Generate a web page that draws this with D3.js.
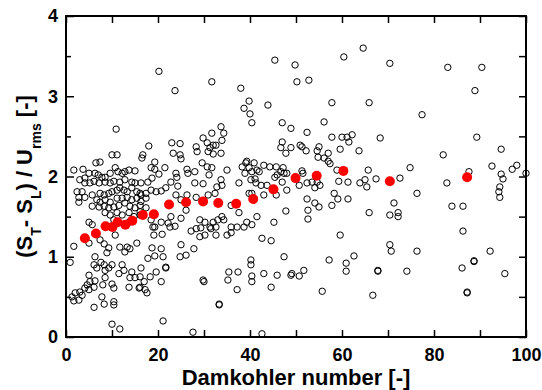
<!DOCTYPE html>
<html>
<head>
<meta charset="utf-8">
<script src="https://cdn.jsdelivr.net/npm/d3@7"></script>
<style>
body { margin: 0; background: #fff; }
svg text { font-family: "Liberation Sans", Arial, Helvetica, sans-serif; font-weight: bold; fill: #000; }
</style>
</head>
<body>
<svg width="542" height="390"></svg>
<script>
// tick values
var xTicks = [0, 10, 20, 30, 40, 50, 60, 70, 80, 90, 100];
var yTicks = [0, 1, 2, 3, 4];
var yMinor = [0.5, 1.5, 2.5, 3.5];
var yRight = [0, 0.5, 1, 1.5, 2, 2.5, 3, 3.5, 4];

// binned means (red)
var meanDa = [4.1, 6.5, 8.6, 10.1, 11.2, 12.9, 14.4, 16.7, 19.1, 22.4, 26.1, 29.8, 33.1, 37.0, 40.7, 45.1, 49.9, 54.5, 60.3, 70.4, 87.2];
var meanSpeed = [1.23, 1.29, 1.38, 1.37, 1.43, 1.40, 1.45, 1.52, 1.53, 1.65, 1.68, 1.69, 1.67, 1.66, 1.72, 1.84, 1.98, 2.01, 2.07, 1.94, 1.99];

// individual samples [Da, (St-Sl)/Urms]
var scatter = [
[20.2,3.31],[23.7,3.07],[10.9,2.59],[23.0,2.42],
[10.0,2.27],[11.1,2.27],[6.5,2.17],[7.4,2.18],[1.7,2.08],[3.7,2.09],[10.7,2.11],[13.7,2.08],[15.0,2.07],
[5.0,2.04],[6.3,2.04],[7.0,2.02],[7.8,1.99],[8.5,1.99],[9.6,2.04],[11.3,2.06],[12.2,2.04],[12.8,2.06],
[3.0,1.96],[4.1,1.98],[4.1,1.92],[5.2,1.92],[6.1,1.94],[7.2,1.92],[8.5,1.93],[9.6,1.92],[10.4,1.94],[11.7,1.93],[12.8,1.96],[14.3,1.93],[15.0,1.92],
[2.4,1.81],[3.5,1.81],[2.8,1.74],[2.8,1.68],[4.1,1.74],[5.7,1.77],[7.4,1.79],[8.3,1.77],[9.3,1.79],[10.0,1.81],[11.1,1.83],[11.7,1.86],[12.6,1.83],[13.3,1.81],[14.3,1.86],[15.4,1.81],[16.1,1.79],
[6.7,1.71],[7.4,1.68],[8.5,1.71],[9.6,1.68],[11.1,1.73],[12.2,1.73],[13.3,1.74],[14.3,1.71],[15.4,1.73],[5.7,1.63],[7.2,1.62],[8.3,1.63],[9.3,1.61],[10.4,1.62],[11.5,1.64],[12.8,1.67],[13.9,1.63],[15.0,1.61],[16.1,1.64],
[8.5,1.55],[9.6,1.52],[11.1,1.55],[12.2,1.52],[13.7,1.55],[14.8,1.50],[16.1,1.52],
[5.0,1.43],[5.7,1.40],[10.4,1.46],[13.7,1.43],
[28.3,2.37],[28.5,2.31],[24.8,2.41],[18.0,2.38],[23.3,2.29],[24.8,2.27],[25.0,2.22],[16.7,2.27],[16.5,2.23],[19.3,2.18],[21.5,2.11],[18.5,2.11],[19.3,2.09],[20.2,2.03],[18.7,1.98],[17.8,1.93],[16.3,1.92],[23.9,2.04],[24.1,1.99],[26.3,2.09],[26.5,2.04],[28.0,2.06],[29.6,2.17],[28.0,1.92],[22.8,1.93],[24.3,1.88],[21.7,1.86],[20.7,1.82],[19.6,1.81],[18.5,1.83],[17.4,1.79],[16.3,1.77],[16.3,1.69],[17.4,1.73],[23.9,1.77],[26.3,1.77],[28.3,1.74],[30.9,1.77],[32.4,1.79],[25.0,1.71],[17.4,1.61],[16.1,1.56],[26.1,1.58],[22.8,1.50],[25.0,1.48],[18.5,1.46],[20.7,1.43],[22.2,1.42],[29.1,1.46],[30.2,1.43],[32.0,1.43],[33.0,1.46],[19.3,1.37],[23.7,1.38],[29.3,1.36],[31.3,1.37],
[1.7,1.13],[0.9,0.93],[7.4,1.21],[8.3,1.16],[9.3,1.11],[10.7,1.27],[11.7,1.12],[13.3,1.12],[13.9,1.10],[12.8,1.06],[15.4,1.17],[5.0,1.17],[8.9,1.05],[6.3,1.00],[7.6,0.93],[6.1,0.90],[6.7,0.86],[8.3,0.90],[9.3,0.86],[10.0,0.90],[8.5,0.83],[12.2,0.90],[12.6,0.83],[11.5,0.79],[5.0,0.77],[8.5,0.74],[6.3,0.70],[5.2,0.69],[4.6,0.65],[4.1,0.61],[3.0,0.56],[2.0,0.55],[1.3,0.50],[1.7,0.45],[2.8,0.46],[3.5,0.52],[5.0,0.59],[6.1,0.62],[8.0,0.65],[10.0,0.66],[10.4,0.61],[14.3,0.81],[13.9,0.74],[15.0,0.74],[16.1,0.75],[13.7,0.62],[15.9,0.61],[7.8,0.50],[8.3,0.41],[6.1,0.37],[10.4,0.44],[10.4,0.40],[10.0,0.16],[11.7,0.10],
[18.9,1.37],[19.1,1.27],[20.9,1.28],[22.6,1.37],[27.2,1.32],[28.3,1.35],[29.1,1.25],[30.2,1.27],[31.5,1.35],[32.6,1.27],[25.0,1.15],[27.8,1.10],[26.1,1.02],[24.8,1.00],[18.7,1.11],[20.7,1.10],[19.3,1.01],[17.8,0.98],[21.1,1.00],[21.7,0.87],[21.7,0.86],[16.3,0.86],[19.6,0.81],[18.3,0.75],[17.0,0.69],[20.7,0.69],[16.1,0.62],[17.2,0.59],[17.6,0.55],[29.8,0.71],[30.0,0.69],[21.1,0.20],[27.6,0.06],
[40.4,2.67],[47.0,2.67],[33.7,2.62],[34.3,2.54],[33.9,2.45],[32.6,2.39],[33.7,2.29],[47.0,2.43],[46.7,2.36],[47.8,2.29],[48.9,2.36],[39.3,2.19],[39.1,2.17],[40.9,2.17],[38.3,2.12],[39.8,2.11],[41.5,2.08],[43.0,2.14],[44.3,2.12],[45.7,2.12],[46.7,2.06],[47.4,2.04],[45.9,2.02],[35.0,2.08],[33.7,1.96],[32.8,1.87],[37.6,1.92],[40.2,1.96],[41.3,1.92],[42.4,1.89],[43.7,1.89],[48.0,1.83],[39.8,1.79],[43.0,1.77],[45.7,1.77],[37.6,1.55],[41.5,1.50],[39.3,1.43],[40.4,1.40],[45.2,1.43],[47.8,1.57],[33.9,1.50],[34.3,1.46],[32.6,1.37],[35.9,1.37],[37.2,1.37],
[38.7,1.37],[35.0,1.27],[35.9,1.30],[42.6,1.23],[44.6,1.20],[47.4,1.00],[40.2,0.96],[40.2,0.90],[35.4,0.81],[35.2,0.71],[37.4,0.81],[40.4,0.76],[40.4,0.69],[43.0,0.79],[45.9,0.77],[48.9,0.77],[44.6,0.62],[37.2,0.59],[33.3,0.40],[33.3,0.41],[42.6,0.04],
[31.7,3.18],[38.0,3.10],[45.4,3.45],[49.8,3.39],[50.2,3.18],[52.8,3.20],[39.8,2.94],[38.7,2.85],[40.0,2.78],[43.9,2.89],[60.4,3.49],[64.6,3.60],[70.4,3.41],[57.8,2.92],[65.9,2.92],[56.1,2.68],[77.4,2.77],[83.0,3.36],[90.4,3.36],[88.9,3.07],[89.3,2.49],[94.6,2.34],[82.0,2.27],[82.8,1.92],[92.6,2.13],[94.6,2.03],[95.0,1.97],[97.0,2.09],[98.0,2.14],[100.0,2.04],[94.3,1.87],[94.1,1.81],[94.3,1.74],[87.6,2.06],[74.8,2.11],[76.3,1.79],[72.6,1.98],[68.3,2.48],[63.7,2.32],[65.7,2.08],[65.0,1.96],[65.4,1.87],[67.4,1.97],[63.9,1.92],[61.3,1.93],[59.3,1.94],[58.9,2.08],[59.6,2.34],[57.8,2.49],[60.0,2.49],[61.1,2.49],[61.5,2.43],[62.2,2.52],[57.0,2.29],[56.1,2.23],[57.0,2.19],[57.4,2.16],[54.6,2.32],[55.0,2.37],[54.8,2.24],[54.6,1.93],[55.2,1.89],[54.1,1.86],[53.5,1.93],[52.4,1.92],[51.5,2.04],[51.3,2.07],[50.7,1.89],[52.4,2.55],[50.9,2.39],[51.3,2.37],[52.2,2.32],[48.9,2.60],[45.4,1.99],[47.2,2.11],[48.0,2.04],[42.0,2.06],[38.9,2.04],[40.4,2.06],[41.1,1.97],[40.4,1.79],[33.9,1.89],[31.1,2.02],[29.8,1.91],[30.7,2.12],[31.7,2.11],[29.8,2.48],[30.7,2.42],[31.3,2.36],[32.0,2.39],[31.7,2.54],[30.9,2.31],[32.0,2.28],[52.4,1.72],[58.3,1.79],[59.1,1.72],[61.3,1.72],
[47.0,1.93],[35.9,1.64],[52.6,1.58],[52.6,1.47],[54.1,1.67],[55.0,1.62],[57.8,1.64],[65.9,1.55],[70.4,1.52],[71.3,1.67],[72.2,1.55],[72.2,1.50],[83.9,1.63],[86.3,1.63],[86.3,1.32],[59.6,1.27],[70.4,1.15],[70.7,1.07],[76.3,1.07],[92.2,1.07],[88.7,0.95],[88.7,0.94],[86.1,0.86],[74.1,0.82],[67.8,0.83],[67.8,0.82],[62.6,1.01],[60.9,0.92],[60.9,0.82],[57.2,0.96],[51.7,0.83],[50.7,0.76],[49.1,0.79],[55.7,0.57],[66.7,0.52],[87.2,0.55],[87.2,0.56],[95.4,0.79]
];

var svg = d3.select("svg"),
    margin = {top: 16, right: 16, bottom: 53, left: 66},
    width = +svg.attr("width") - margin.left - margin.right,
    height = +svg.attr("height") - margin.top - margin.bottom;

var x = d3.scaleLinear().domain([0, 100]).range([0, width]),
    y = d3.scaleLinear().domain([0, 4]).range([height, 0]);

var g = svg.append("g")
    .attr("transform", "translate(" + margin.left + "," + margin.top + ")");

// hollow samples
g.selectAll(".pt")
    .data(scatter)
  .enter().append("circle")
    .attr("class", "pt")
    .attr("cx", function(d) { return x(d[0]); })
    .attr("cy", function(d) { return y(d[1]); })
    .attr("r", 3.2)
    .attr("fill", "none")
    .attr("stroke", "#000")
    .attr("stroke-width", 1);

// red means
g.selectAll(".mean")
    .data(meanDa)
  .enter().append("circle")
    .attr("class", "mean")
    .attr("cx", function(d) { return x(d); })
    .attr("cy", function(d, i) { return y(meanSpeed[i]); })
    .attr("r", 5)
    .attr("fill", "#ff0000");

// axes, ticks pointing inwards
function style(sel) {
  sel.select(".domain").remove();
  sel.selectAll("line").attr("stroke", "#000").attr("stroke-width", 1.5);
  sel.selectAll("text").style("font-size", "18px");
}

g.append("g")
    .attr("transform", "translate(0," + height + ")")
    .call(d3.axisBottom(x).tickValues(xTicks).tickSize(-7).tickPadding(11)
      .tickFormat(function(d) { return d % 20 === 0 ? d : ""; }))
    .call(style);

g.append("g")
    .call(d3.axisTop(x).tickValues(xTicks).tickSize(-7).tickFormat(""))
    .call(style);

g.append("g")
    .call(d3.axisLeft(y).tickValues(yTicks).tickSize(-8).tickPadding(8).tickFormat(d3.format("d")))
    .call(style);

g.append("g")
    .call(d3.axisLeft(y).tickValues(yMinor).tickSize(-5).tickFormat(""))
    .call(style);

g.append("g")
    .attr("transform", "translate(" + width + ",0)")
    .call(d3.axisRight(y).tickValues(yRight).tickSize(-7).tickFormat(""))
    .call(style);

g.append("rect")
    .attr("width", width)
    .attr("height", height)
    .attr("fill", "none")
    .attr("stroke", "#000")
    .attr("stroke-width", 2);

// titles
svg.append("text")
    .attr("x", margin.left + width / 2)
    .attr("y", 385)
    .attr("text-anchor", "middle")
    .style("font-size", "22px")
    .text("Damkohler number [-]");

var yt = svg.append("text")
    .attr("transform", "translate(32," + (margin.top + height / 2) + ") rotate(-90)")
    .attr("text-anchor", "middle")
    .style("font-size", "22px");
yt.append("tspan").text("(S");
yt.append("tspan").attr("dy", 9).style("font-size", "14px").text("T");
yt.append("tspan").attr("dy", -9).text("- S");
yt.append("tspan").attr("dy", 9).style("font-size", "14px").text("L");
yt.append("tspan").attr("dy", -9).text(") / U");
yt.append("tspan").attr("dy", 9).style("font-size", "14px").text("rms");
yt.append("tspan").attr("dy", -9).text(" [-]");
</script>
</body>
</html>
